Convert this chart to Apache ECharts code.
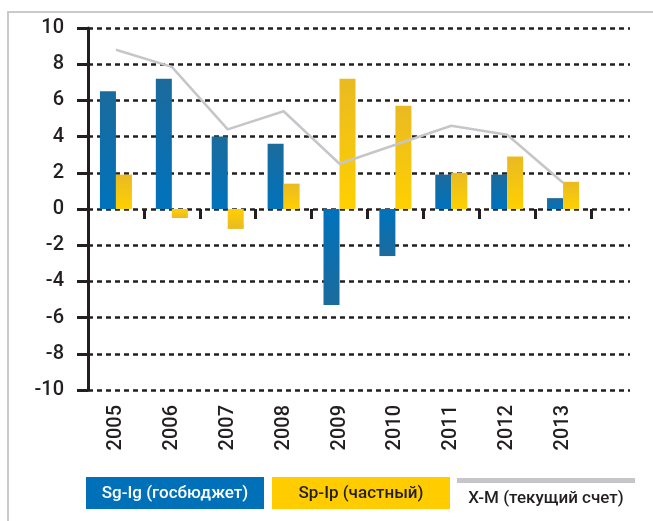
<!DOCTYPE html>
<html>
<head>
<meta charset="utf-8">
<style type="text/css">
html, body {margin: 0; padding: 0; background: #fff;}
#chart {width: 653px; height: 521px;}
</style>
<script src="https://cdn.jsdelivr.net/npm/echarts@6/dist/echarts.min.js"></script>
</head>
<body>
<div id="chart"></div>
<script>
var years = ['2005', '2006', '2007', '2008', '2009', '2010', '2011', '2012', '2013'];
var yTicks = [-10, -8, -6, -4, -2, 0, 2, 4, 6, 8, 10];
// Sg-Ig (госбюджет)
var gov = [6.5, 7.2, 4.0, 3.6, -5.3, -2.6, 1.9, 1.9, 0.6];
// Sp-Ip (частный)
var priv = [1.9, -0.5, -1.1, 1.4, 7.2, 5.7, 2.0, 2.9, 1.5];
// X-M (текущий счет), 2010 не отмечен
var cur = [8.8, 7.85, 4.4, 5.4, 2.5, null, 4.6, 4.1, 1.45];
var names = ['Sg-Ig (госбюджет)', 'Sp-Ip (частный)', 'X-M (текущий счет)'];

var font = 'Roboto, "Noto Sans", sans-serif';
var ink = '#231f20';

function grad(dark, light, v) {
    // темнее у вершины столбца
    var a = v >= 0 ? dark : light, b = v >= 0 ? light : dark;
    return new echarts.graphic.LinearGradient(0, 0, 0, 1, [
        {offset: 0, color: a}, {offset: 1, color: b}
    ]);
}
function bars(vals, dark, light) {
    return vals.map(function (v) {
        return {value: v, itemStyle: {color: grad(dark, light, v)}};
    });
}

var chart = echarts.init(document.getElementById('chart'));
chart.setOption({
    animation: false,
    textStyle: {fontFamily: font},
    grid: [
        {left: 88, top: 28, width: 503, height: 362},
        {left: 88, top: 28, width: 542, height: 362}
    ],
    xAxis: [
        {
            type: 'category', gridIndex: 0, data: years,
            axisLine: {show: false, onZero: false},
            axisTick: {show: false},
            axisLabel: {rotate: 90, margin: 15, fontSize: 20, fontWeight: 500, color: ink, fontFamily: font}
        },
        {
            type: 'category', gridIndex: 0, data: years, position: 'bottom',
            axisLine: {show: false, onZero: true},
            axisTick: {show: true, length: 10, lineStyle: {color: ink, width: 3}},
            axisLabel: {show: false}
        },
        {
            type: 'category', gridIndex: 1, data: years, show: false
        }
    ],
    yAxis: [
        {
            type: 'value', gridIndex: 0, min: -10, max: 10, interval: 2,
            axisLine: {show: true, lineStyle: {color: ink, width: 3}},
            axisTick: {show: true, length: 11, lineStyle: {color: ink, width: 3}},
            axisLabel: {margin: 24, fontSize: 20, fontWeight: 500, color: ink, fontFamily: font},
            splitLine: {show: false}
        },
        {
            type: 'value', gridIndex: 1, min: -10, max: 10, interval: 2,
            axisLine: {show: false}, axisTick: {show: false}, axisLabel: {show: false},
            splitLine: {show: true, lineStyle: {color: ink, width: 2.5, type: [5, 4]}}
        }
    ],
    series: [
        {
            name: names[0], type: 'bar', xAxisIndex: 0, yAxisIndex: 0,
            barWidth: 16, barGap: '0%',
            data: bars(gov, '#1b6b9c', '#0072bc')
        },
        {
            name: names[1], type: 'bar', xAxisIndex: 0, yAxisIndex: 0,
            barWidth: 16, barGap: '0%',
            data: bars(priv, '#e9ba22', '#ffd000')
        },
        {
            name: names[2], type: 'line', xAxisIndex: 0, yAxisIndex: 0,
            data: cur, connectNulls: true, symbol: 'none',
            lineStyle: {color: '#c6c6ca', width: 2.5}, z: 3
        }
    ],
    graphic: [
        {type: 'polyline', shape: {points: [[8, 521], [8, 12], [653, 12]]},
         style: {stroke: '#cacaca', lineWidth: 2, fill: null}},
        // легенда
        {type: 'rect', shape: {x: 86, y: 477, width: 178, height: 32}, style: {fill: '#0071b9'}},
        {type: 'text', x: 175, y: 494, style: {text: names[0], fill: '#fff', font: '500 17px ' + font, align: 'center', verticalAlign: 'middle'}},
        {type: 'rect', shape: {x: 272, y: 477, width: 178, height: 32}, style: {fill: '#ffcc00'}},
        {type: 'text', x: 361, y: 494, style: {text: names[1], fill: ink, font: '500 17px ' + font, align: 'center', verticalAlign: 'middle'}},
        {type: 'rect', shape: {x: 457, y: 478, width: 178, height: 5}, style: {fill: '#c6c6ca'}},
        {type: 'text', x: 546, y: 499, style: {text: names[2], fill: ink, font: '500 17px ' + font, align: 'center', verticalAlign: 'middle'}}
    ]
});
</script>
</body>
</html>
